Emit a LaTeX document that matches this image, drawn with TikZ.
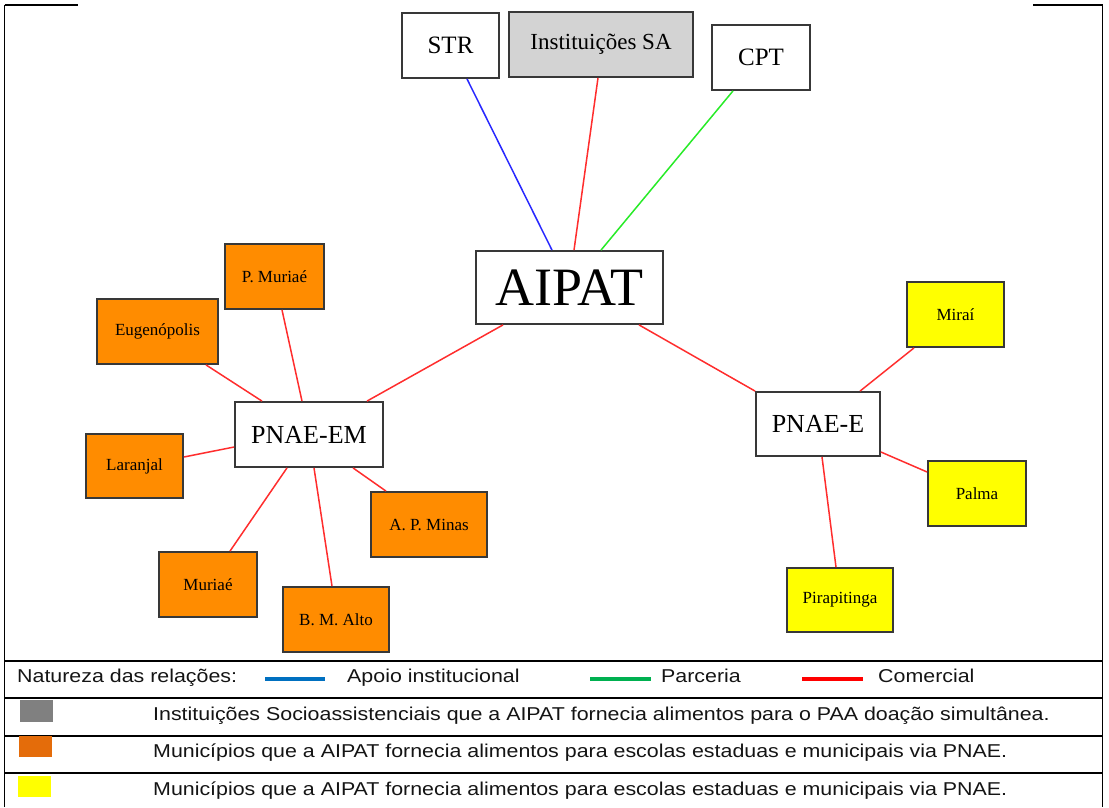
\documentclass[tikz,border=0pt]{standalone}
\usepackage{fontspec}
\setmainfont{Liberation Serif}
\newfontfamily\legfont[FakeStretch=1.15]{Liberation Sans}
\usetikzlibrary{calc}
\definecolor{orfill}{RGB}{255,140,0}
\definecolor{yefill}{RGB}{255,255,0}
\definecolor{grfill}{RGB}{211,211,211}
\definecolor{edred}{RGB}{255,45,45}
\definecolor{edblue}{RGB}{40,40,255}
\definecolor{edgreen}{RGB}{40,235,40}
\definecolor{legblue}{RGB}{0,112,192}
\definecolor{leggreen}{RGB}{0,176,80}
\definecolor{legred}{RGB}{255,0,0}
\definecolor{legorange}{RGB}{228,108,10}
\definecolor{leggray}{RGB}{128,128,128}
\begin{document}
\begin{tikzpicture}[x=1pt,y=-1pt,
  box/.style={draw=black!78, line width=1.8pt, rectangle, inner sep=0pt, fill=white},
  small/.style={box, font=\fontsize{17}{20}\selectfont},
  mid/.style={box, font=\fontsize{25}{28}\selectfont},
  orbox/.style={small, fill=orfill},
  yebox/.style={small, fill=yefill},
  rl/.style={draw=edred, line width=1.5pt},
  bl/.style={draw=edblue, line width=1.5pt},
  gl/.style={draw=edgreen, line width=1.5pt},
  frame/.style={draw=black, line width=1.3pt},
  legtext/.style={anchor=base west, inner sep=0pt, text=black!92, font=\legfont\fontsize{18.6}{22}\selectfont},
  legline/.style={line width=3.5pt}
]
\useasboundingbox (0,0) rectangle (1109,807);

% frame and legend table
\draw[frame] (4.5,5) -- (78,5);
\draw[frame] (1033,5) -- (1102.5,5);
\draw[frame] (4.5,5) -- (4.5,807);
\draw[frame] (1102.5,5) -- (1102.5,807);
\foreach \yy in {661,698,736,773}{\draw[frame] (4.5,\yy) -- (1102.5,\yy);}

% nodes
\node[mid, minimum width=97pt, minimum height=65pt] (str) at (450.5,45.5) {STR};
\node[mid, fill=grfill, minimum width=184pt, minimum height=65pt, font=\fontsize{23}{26}\selectfont] (inst) at (601,44.5) {Instituições SA};
\node[mid, minimum width=98pt, minimum height=65pt] (cpt) at (761,57.5) {CPT};
\node[box, minimum width=187pt, minimum height=73pt, font=\fontsize{54}{60}\selectfont] (aipat) at (569.5,287.5) {AIPAT};
\node[box, minimum width=148pt, minimum height=65pt, font=\fontsize{26}{30}\selectfont] (pnaeem) at (309,434.5) {PNAE-EM};
\node[box, minimum width=124pt, minimum height=64pt, font=\fontsize{26}{30}\selectfont] (pnaee) at (818,424) {PNAE-E};

\node[orbox, minimum width=99pt, minimum height=65pt] (pmuriae) at (274.5,276.5) {P. Muriaé};
\node[orbox, minimum width=121pt, minimum height=65pt] (eug) at (157.5,331.5) {Eugenópolis};
\node[orbox, minimum width=97pt, minimum height=64pt] (laranjal) at (134.5,466) {Laranjal};
\node[orbox, minimum width=98pt, minimum height=65pt] (muriae) at (208,584.5) {Muriaé};
\node[orbox, minimum width=106pt, minimum height=65pt] (bmalto) at (336,619.5) {B. M. Alto};
\node[orbox, minimum width=116pt, minimum height=65pt] (apminas) at (429,524.5) {A. P. Minas};

\node[yebox, minimum width=97pt, minimum height=65pt] (mirai) at (955.5,314.5) {Miraí};
\node[yebox, minimum width=98pt, minimum height=65pt] (palma) at (977,493.5) {Palma};
\node[yebox, minimum width=106pt, minimum height=64pt] (pira) at (840,600) {Pirapitinga};

% connectors
\draw[bl] ($(str.south)+(16.5,0)$) -- ($(aipat.north)+(-17.5,0)$);
\draw[rl] ($(inst.south)+(-3,0)$) -- ($(aipat.north)+(4.5,0)$);
\draw[gl] ($(cpt.south)+(-28,0)$) -- ($(aipat.north)+(31.5,0)$);
\draw[rl] ($(aipat.south)+(-66.5,0)$) -- ($(pnaeem.north)+(58,0)$);
\draw[rl] ($(aipat.south)+(69.5,0)$) -- (pnaee.north west);
\draw[rl] ($(pnaeem.north)+(-47,0)$) -- ($(eug.south)+(48.5,0)$);
\draw[rl] ($(pnaeem.north)+(-7,0)$) -- ($(pmuriae.south)+(7.5,0)$);
\draw[rl] ($(pnaeem.west)+(0,12.5)$) -- ($(laranjal.east)+(0,-9)$);
\draw[rl] ($(pnaeem.south)+(-22,0)$) -- ($(muriae.north)+(22,0)$);
\draw[rl] ($(pnaeem.south)+(5,0)$) -- ($(bmalto.north)+(-4,0)$);
\draw[rl] ($(pnaeem.south)+(44,0)$) -- ($(apminas.north)+(-43,0)$);
\draw[rl] ($(pnaee.north)+(42,0)$) -- ($(mirai.south)+(-41.5,0)$);
\draw[rl] ($(pnaee.east)+(0,28)$) -- ($(palma.west)+(0,-21.5)$);
\draw[rl] ($(pnaee.south)+(4,0)$) -- ($(pira.north)+(-4,0)$);

% legend
\node[legtext] (lnat) at (17,682) {Natureza das relações:};
\draw[legline, legblue] (265,679) -- (325,679);
\node[legtext] (lapoio) at (347,682) {Apoio institucional};
\draw[legline, leggreen] (590,679) -- (651,679);
\node[legtext] (lparc) at (661,682) {Parceria};
\draw[legline, legred] (802,679) -- (863,679);
\node[legtext] (lcom) at (878,682) {Comercial};

\fill[leggray] (20,700) rectangle (53,722);
\node[legtext] (lrow2) at (153,720) {Instituições Socioassistenciais que a AIPAT fornecia alimentos para o PAA doação simultânea.};
\fill[legorange] (19,736) rectangle (52,757);
\node[legtext] (lrow3) at (153,757) {Municípios que a AIPAT fornecia alimentos para escolas estaduas e municipais via PNAE.};
\fill[yefill] (18,776) rectangle (51,797);
\node[legtext] (lrow4) at (153,795) {Municípios que a AIPAT fornecia alimentos para escolas estaduas e municipais via PNAE.};
\end{tikzpicture}
\end{document}
